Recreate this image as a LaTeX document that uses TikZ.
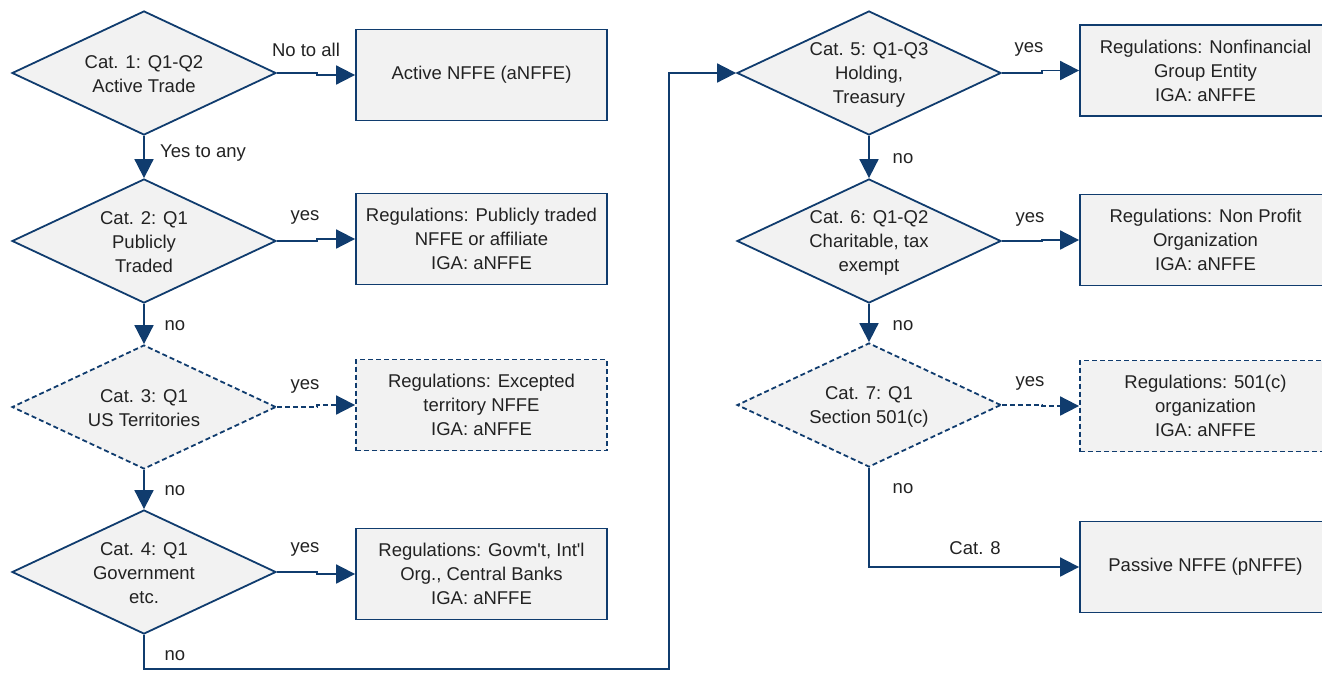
\documentclass[tikz,border=0pt]{standalone}
\usepackage{fontspec}
\setmainfont{Liberation Sans}
\usetikzlibrary{shapes.geometric,arrows.meta,calc}
\definecolor{navy}{HTML}{103C6E}
\definecolor{boxfill}{HTML}{F2F2F2}
\definecolor{ink}{HTML}{222222}
\begin{document}
\begin{tikzpicture}[x=1pt,y=-1pt,
  font=\fontsize{18.5}{24}\selectfont, text=ink,
  dia/.style={diamond, draw=navy, fill=boxfill, line width=1.8pt, minimum width=264pt, minimum height=124pt, inner sep=0pt},
  dtext/.style={align=center, inner sep=0pt, yshift=-1.5pt},
  rbox/.style={rectangle, draw=navy, fill=boxfill, line width=1.8pt, minimum width=251pt, minimum height=91pt, align=center, inner sep=0pt},
  dashy/.style={dash pattern=on 5pt off 3pt},
  arr/.style={draw=navy, line width=1.8pt, -{Triangle[length=19pt,width=19pt]}},
  lbl/.style={inner sep=0pt}
]
\useasboundingbox (0,0) rectangle (1322,689);

% left column diamonds
\node[dia] (d1) at (144,73) {};
\node[dtext] (t1) at (d1) {Cat. 1: Q1-Q2\\Active Trade};
\node[dia] (d2) at (144,241) {};
\node[dtext] (t2) at (d2) {Cat. 2: Q1\\Publicly\\Traded};
\node[dia,dashy] (d3) at (144,407) {};
\node[dtext] (t3) at (d3) {Cat. 3: Q1\\US Territories};
\node[dia] (d4) at (144,572) {};
\node[dtext] (t4) at (d4) {Cat. 4: Q1\\Government\\etc.};

% left column boxes
\node[rbox] (b1) at (481.5,75) {Active NFFE (aNFFE)};
\node[rbox] (b2) at (481.5,239) {Regulations: Publicly traded\\NFFE or affiliate\\IGA: aNFFE};
\node[rbox,dashy] (b3) at (481.5,405) {Regulations: Excepted\\territory NFFE\\IGA: aNFFE};
\node[rbox] (b4) at (481.5,574) {Regulations: Govm\textquotesingle t, Int\textquotesingle l\\Org., Central Banks\\IGA: aNFFE};

% right column diamonds
\node[dia] (d5) at (869,73) {};
\node[dtext] (t5) at (d5) {Cat. 5: Q1-Q3\\Holding,\\Treasury};
\node[dia] (d6) at (869,241) {};
\node[dtext] (t6) at (d6) {Cat. 6: Q1-Q2\\Charitable, tax\\exempt};
\node[dia,dashy] (d7) at (869,405) {};
\node[dtext] (t7) at (d7) {Cat. 7: Q1\\Section 501(c)};

% right column boxes
\node[rbox] (b5) at (1205.5,70.5) {Regulations: Nonfinancial\\Group Entity\\IGA: aNFFE};
\node[rbox] (b6) at (1205.5,240) {Regulations: Non Profit\\Organization\\IGA: aNFFE};
\node[rbox,dashy] (b7) at (1205.5,406) {Regulations: 501(c)\\organization\\IGA: aNFFE};
\node[rbox] (b8) at (1205.5,567) {Passive NFFE (pNFFE)};

% horizontal yes arrows
\draw[arr] (d1.east) -- ++(40,0) |- (b1.west);
\draw[arr] (d2.east) -- ++(40,0) |- (b2.west);
\draw[arr,dashy] (d3.east) -- ++(40,0) |- (b3.west);
\draw[arr] (d4.east) -- ++(40,0) |- (b4.west);
\draw[arr] (d5.east) -- ++(40,0) |- (b5.west);
\draw[arr] (d6.east) -- ++(40,0) |- (b6.west);
\draw[arr,dashy] (d7.east) -- ++(40,0) |- (b7.west);

% vertical arrows
\draw[arr] (d1.south) -- (d2.north);
\draw[arr] (d2.south) -- (d3.north);
\draw[arr] (d3.south) -- (d4.north);
\draw[arr] (d5.south) -- (d6.north);
\draw[arr] (d6.south) -- (d7.north);

% loop from cat 4 to cat 5
\coordinate (lc) at ($(d5.west)+(-67,0)$);
\draw[arr] (d4.south) -- ++(0,34) -| (lc) -- (d5.west);

% cat 8
\draw[arr] (d7.south) |- (b8.west);

% labels
\node[lbl] at (306,50) {No to all};
\node[lbl] at (203,153) {Yes to any};
\node[lbl] at (305,217) {yes};
\node[lbl] at (175,326) {no};
\node[lbl] at (305,386) {yes};
\node[lbl] at (175,491) {no};
\node[lbl] at (305,549) {yes};
\node[lbl] at (175,656) {no};
\node[lbl] at (1029,49) {yes};
\node[lbl] at (903,159) {no};
\node[lbl] at (1030,219) {yes};
\node[lbl] at (903,326) {no};
\node[lbl] at (1030,383) {yes};
\node[lbl] at (903,489) {no};
\node[lbl] at (975,548) {Cat. 8};
\end{tikzpicture}
\end{document}
